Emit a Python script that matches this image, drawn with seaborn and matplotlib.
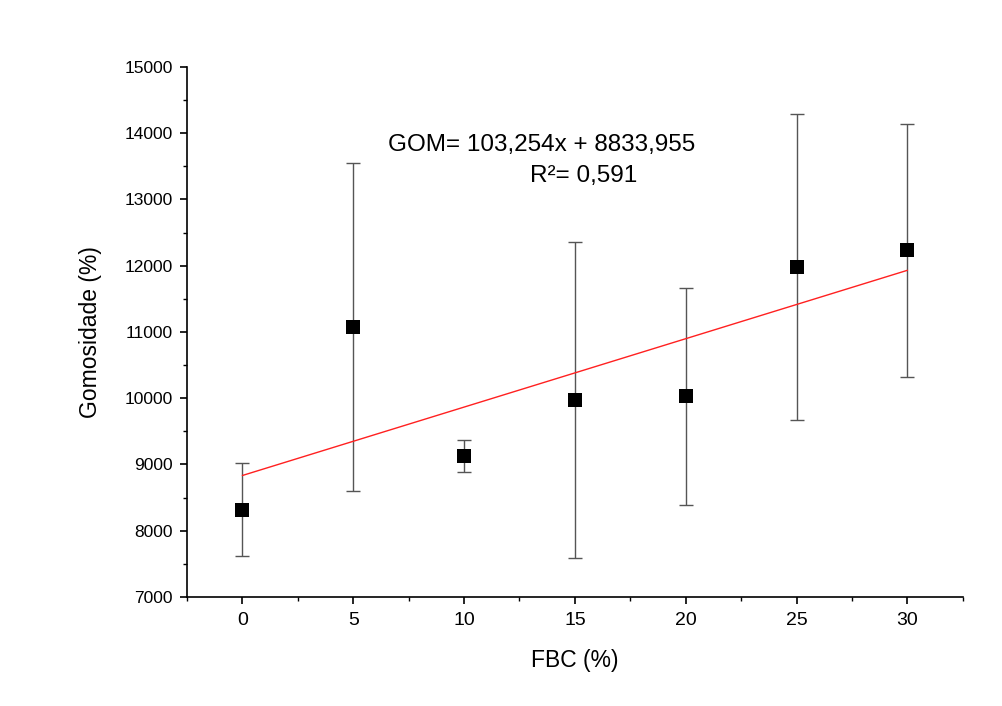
import numpy as np
import pandas as pd
import matplotlib
matplotlib.use("Agg")
import matplotlib.pyplot as plt
from matplotlib.ticker import MultipleLocator
import seaborn as sns

# FBC content (%) and mean gumminess with standard deviation
fbc = [0, 5, 10, 15, 20, 25, 30]
gomosidade = [8320, 11075, 9128, 9974, 10030, 11981, 12234]
desvio = [705, 2475, 242, 2385, 1638, 2309, 1910]

# Linear fit coefficients shown in the annotation
slope = 103.254
intercept = 8833.955
r2 = 0.591

sns.set_theme(style="ticks")
plt.rcParams["font.family"] = ["Liberation Sans", "DejaVu Sans"]
plt.rcParams["text.color"] = "black"
plt.rcParams["axes.labelcolor"] = "black"

df = pd.DataFrame({"FBC": fbc, "GOM": gomosidade, "SD": desvio})

fig = plt.figure(figsize=(10.03, 7.06), dpi=100)
ax = fig.add_axes([0.1864, 0.1544, 0.7736, 0.7507])

# Error bars
ax.errorbar(df["FBC"], df["GOM"], yerr=df["SD"], fmt="none",
            ecolor="#555555", elinewidth=1.0, capsize=5, capthick=1.0, zorder=2)

# Fitted line
xfit = np.array([fbc[0], fbc[-1]], dtype=float)
fit = pd.DataFrame({"FBC": xfit, "GOM": intercept + slope * xfit})
sns.lineplot(data=fit, x="FBC", y="GOM", ax=ax, color="#ff2020",
             linewidth=1.0, zorder=3)

# Mean points
sns.scatterplot(data=df, x="FBC", y="GOM", ax=ax, marker="s", s=110,
                color="black", edgecolor="black", linewidth=0, zorder=4)

ax.set_xlim(-2.5, 32.5)
ax.set_ylim(7000, 15000)
ax.xaxis.set_major_locator(MultipleLocator(5))
ax.xaxis.set_minor_locator(MultipleLocator(2.5))
ax.yaxis.set_major_locator(MultipleLocator(1000))
ax.yaxis.set_minor_locator(MultipleLocator(500))
ax.tick_params(which="major", direction="out", length=5, width=1.2,
               colors="black")
ax.tick_params(axis="x", which="major", labelsize=14, pad=6)
ax.tick_params(axis="y", which="major", labelsize=12.5, pad=5)
ax.tick_params(which="minor", direction="out", length=3, width=1.0, colors="black")

sns.despine(ax=ax)
for s in ("left", "bottom"):
    ax.spines[s].set_linewidth(1.2)
    ax.spines[s].set_color("black")

ax.set_xlabel("FBC (%)", fontsize=16.5, labelpad=14, color="black")
ax.set_ylabel("Gomosidade (%)", fontsize=16.5, labelpad=16, color="black")

fmt = lambda v, d: f"{v:.{d}f}".replace(".", ",")
ax.text(6.58, 13823, f"GOM= {fmt(slope, 3)}x + {fmt(intercept, 3)}",
        fontsize=17.5, ha="left", va="center", color="black", zorder=5)
ax.text(12.97, 13355, f"R²= {fmt(r2, 3)}",
        fontsize=17.5, ha="left", va="center", color="black", zorder=5)

fig.savefig("out.png", dpi=100, facecolor="white")
